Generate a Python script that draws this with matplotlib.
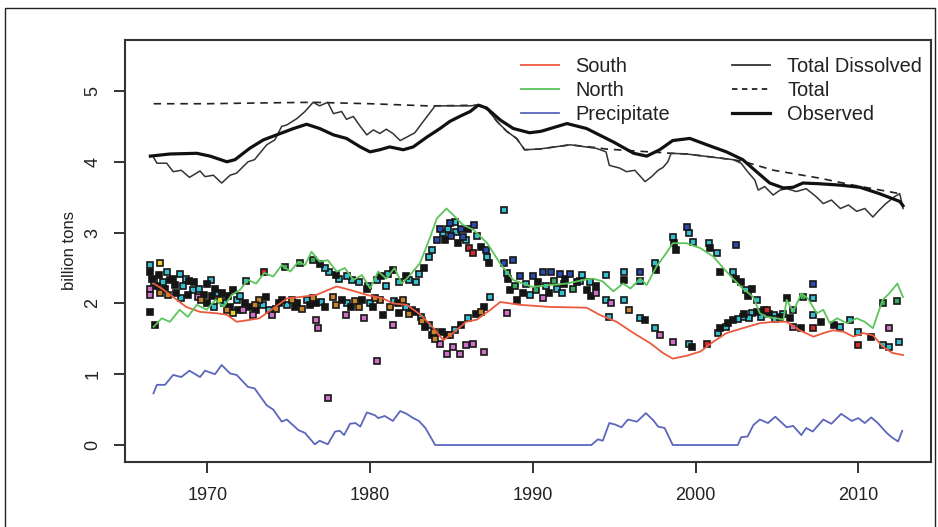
import matplotlib
matplotlib.use("Agg")
import matplotlib.pyplot as plt
from matplotlib.patches import Rectangle
from matplotlib.lines import Line2D

plt.rcParams['font.family'] = ['Liberation Sans', 'DejaVu Sans']

# ---------------- data ----------------
precip_year = [1966.69, 1966.9, 1967.4, 1967.9, 1968.4, 1968.9, 1969.55, 1969.86, 1970.47, 1970.88,
               1971.4, 1971.8, 1972.5, 1972.9, 1973.65, 1974.05, 1974.57, 1974.88, 1975.6, 1976.0,
               1976.6, 1976.9, 1977.4, 1977.85, 1978.15, 1978.4, 1978.77, 1979.1, 1979.4, 1979.8,
               1980.3, 1980.5, 1980.9, 1981.4, 1981.85, 1982.25, 1982.65, 1983.0, 1983.4, 1984.0,
               1993.6, 1994.0, 1994.3, 1994.7, 1995.05, 1995.45, 1995.85, 1996.4, 1996.95, 1997.4,
               1997.7, 1998.1, 1998.6, 2002.6, 2002.8, 2003.2, 2003.55, 2003.95, 2004.45, 2004.9,
               2005.6, 2006.0, 2006.5, 2006.8, 2007.2, 2007.85, 2008.35, 2008.95, 2009.6, 2010.0,
               2010.4, 2010.8, 2011.2, 2011.75, 2012.05, 2012.45, 2012.7]
precip_val = [0.73, 0.85, 0.85, 0.99, 0.96, 1.05, 0.96, 1.05, 1.0, 1.13,
              1.01, 0.99, 0.82, 0.80, 0.56, 0.50, 0.33, 0.36, 0.21, 0.17,
              0.01, 0.06, 0.01, 0.19, 0.20, 0.14, 0.30, 0.31, 0.26, 0.46,
              0.42, 0.38, 0.41, 0.34, 0.48, 0.44, 0.38, 0.34, 0.24, 0.0,
              0.0, 0.08, 0.06, 0.31, 0.29, 0.25, 0.36, 0.33, 0.45, 0.35,
              0.26, 0.24, 0.0, 0.0, 0.11, 0.12, 0.28, 0.36, 0.31, 0.40,
              0.25, 0.27, 0.14, 0.24, 0.19, 0.36, 0.30, 0.44, 0.34, 0.38,
              0.31, 0.39, 0.31, 0.17, 0.11, 0.05, 0.20]

south_year = [1966.7, 1967.2, 1967.9, 1968.7, 1969.55, 1970.6, 1971.2, 1971.8, 1972.4, 1973.2,
              1974.05, 1974.9, 1975.7, 1976.7, 1977.95, 1978.77, 1979.8, 1980.8, 1981.4, 1982.25,
              1983.1, 1983.9, 1984.5, 1985.1, 1985.9, 1986.55, 1987.4, 1988.0, 1989.2, 1991.05,
              1993.3, 1994.1, 1995.15, 1996.2, 1997.2, 1998.0, 1998.6, 1999.45, 2000.3, 2001.1,
              2001.9, 2002.9, 2003.95, 2004.8, 2005.6, 2006.4, 2007.25, 2007.85, 2008.45, 2009.1,
              2009.7, 2010.3, 2010.9, 2011.5, 2012.1, 2012.75]
south_val = [2.28, 2.21, 2.09, 1.95, 1.88, 1.86, 1.84, 1.74, 1.76, 1.79,
             1.93, 2.07, 2.09, 2.12, 2.24, 2.19, 2.12, 2.07, 2.0, 1.98,
             1.84, 1.65, 1.48, 1.58, 1.74, 1.77, 1.91, 2.02, 1.98, 1.95,
             1.94, 1.84, 1.74, 1.58, 1.44, 1.30, 1.22, 1.26, 1.32, 1.46,
             1.58, 1.65, 1.72, 1.74, 1.74, 1.62, 1.53, 1.58, 1.62, 1.60,
             1.53, 1.58, 1.55, 1.39, 1.30, 1.27]

north_year = [1966.7, 1967.2, 1967.7, 1968.3, 1968.8, 1969.35, 1969.96, 1970.5, 1971.0, 1971.5,
              1972.0, 1972.5, 1973.0, 1973.5, 1974.05, 1974.57, 1975.1, 1975.6, 1976.0, 1976.4,
              1976.9, 1977.4, 1977.95, 1978.45, 1978.97, 1979.5, 1980.0, 1980.5, 1981.0, 1981.5,
              1981.95, 1982.45, 1983.07, 1983.7, 1984.1, 1984.7, 1985.1, 1985.7, 1986.35, 1987.2,
              1988.0, 1988.8, 1990.0, 1991.05, 1992.1, 1993.1, 1993.7, 1994.3, 1994.95, 1995.55,
              1996.0, 1996.6, 1997.0, 1997.6, 1998.2, 1998.6, 1999.45, 2000.3, 2001.1, 2001.7,
              2002.3, 2002.9, 2003.55, 2003.95, 2004.36, 2004.97, 2005.4, 2005.6, 2006.0, 2006.5,
              2006.9, 2007.45, 2007.85, 2008.25, 2008.7, 2009.3, 2009.9, 2010.4, 2010.9, 2011.5,
              2011.9, 2012.4, 2012.75]
north_val = [1.67, 1.79, 1.74, 1.91, 1.81, 1.98, 1.91, 2.05, 1.95, 2.12,
             2.19, 2.33, 2.28, 2.43, 2.38, 2.54, 2.45, 2.59, 2.54, 2.73,
             2.59, 2.61, 2.45, 2.50, 2.33, 2.40, 2.21, 2.45, 2.35, 2.50,
             2.28, 2.40, 2.57, 2.94, 3.20, 3.34, 3.25, 3.11, 3.04, 2.85,
             2.56, 2.33, 2.23, 2.26, 2.28, 2.33, 2.35, 2.31, 2.17, 2.28,
             2.21, 2.35, 2.26, 2.52, 2.71, 2.85, 2.85, 2.78, 2.66, 2.50,
             2.35, 2.21, 2.09, 1.86, 1.81, 1.79, 1.77, 2.05, 1.88, 2.14,
             2.07, 1.86, 1.91, 1.72, 1.79, 1.72, 1.79, 1.74, 1.65, 2.05,
             2.14, 2.28, 2.09]

dissolved_year = [1966.68, 1966.9, 1967.5, 1967.9, 1968.4, 1968.9, 1969.55, 1969.86, 1970.37, 1970.88,
                  1971.4, 1971.8, 1972.5, 1972.9, 1973.65, 1974.15, 1974.57, 1974.88, 1975.5, 1976.0,
                  1976.5, 1976.9, 1977.4, 1977.75, 1978.25, 1978.55, 1978.97, 1979.4, 1979.8, 1980.2,
                  1980.6, 1981.0, 1981.4, 1981.85, 1982.35, 1982.75, 1983.27, 1984.0, 1986.1, 1986.75,
                  1987.25, 1987.8, 1988.4, 1989.0, 1989.5, 1990.4, 1992.3, 1993.9, 1994.5, 1994.7,
                  1995.35, 1995.76, 1996.27, 1996.9, 1997.3, 1997.7, 1998.0, 1998.3, 1998.5, 1999.45,
                  2002.3, 2002.8, 2003.2, 2003.65, 2003.85, 2004.25, 2004.77, 2005.2, 2005.6, 2006.2,
                  2006.8, 2007.4, 2007.85, 2008.35, 2008.9, 2009.4, 2009.9, 2010.4, 2010.9, 2011.3,
                  2011.7, 2012.25, 2012.55, 2012.75]
dissolved_val = [4.07, 3.98, 3.98, 3.86, 3.88, 3.78, 3.87, 3.79, 3.81, 3.70,
                 3.81, 3.84, 4.00, 4.03, 4.24, 4.31, 4.50, 4.52, 4.61, 4.71,
                 4.84, 4.79, 4.84, 4.68, 4.71, 4.60, 4.64, 4.50, 4.38, 4.45,
                 4.40, 4.46, 4.40, 4.30, 4.36, 4.41, 4.57, 4.79, 4.79, 4.80,
                 4.73, 4.57, 4.43, 4.33, 4.17, 4.18, 4.24, 4.19, 4.14, 3.95,
                 3.91, 3.86, 3.88, 3.72, 3.79, 3.88, 3.92, 4.00, 4.12, 4.11,
                 4.03, 3.98, 3.86, 3.74, 3.60, 3.65, 3.53, 3.60, 3.62, 3.58,
                 3.62, 3.51, 3.41, 3.46, 3.34, 3.39, 3.30, 3.34, 3.22, 3.32,
                 3.41, 3.51, 3.55, 3.34]

total_year = [1966.7, 1970.0, 1973.0, 1976.5, 1980.0, 1983.5, 1984.0, 1986.75, 1987.25, 1987.8,
              1988.4, 1989.0, 1989.5, 1990.4, 1992.3, 1993.9, 1994.5, 1996.5, 1998.5, 1999.45,
              2002.3, 2003.0, 2004.8, 2007.6, 2009.7, 2012.55, 2012.75]
total_val = [4.82, 4.82, 4.83, 4.84, 4.82, 4.79, 4.79, 4.80, 4.73, 4.57,
             4.43, 4.33, 4.17, 4.18, 4.24, 4.20, 4.18, 4.15, 4.12, 4.11,
             4.03, 4.00, 3.88, 3.77, 3.67, 3.55, 3.53]

observed_year = [1966.5, 1967.7, 1969.35, 1970.17, 1971.2, 1971.7, 1972.6, 1973.45, 1974.26, 1975.3,
                 1976.1, 1976.9, 1977.75, 1978.55, 1979.4, 1980.0, 1980.6, 1981.2, 1982.04, 1982.65,
                 1983.5, 1984.3, 1984.9, 1985.5, 1986.15, 1986.65, 1987.16, 1988.0, 1988.8, 1989.8,
                 1990.5, 1992.1, 1993.3, 1994.95, 1996.2, 1997.0, 1997.8, 1998.6, 1999.65, 2000.7,
                 2001.9, 2002.9, 2003.75, 2004.56, 2005.4, 2006.0, 2006.6, 2007.6, 2008.9, 2010.1,
                 2011.3, 2012.55, 2012.75]
observed_val = [4.08, 4.11, 4.12, 4.08, 4.00, 4.03, 4.19, 4.31, 4.38, 4.47,
                4.53, 4.47, 4.38, 4.33, 4.21, 4.14, 4.17, 4.21, 4.17, 4.21,
                4.35, 4.47, 4.57, 4.64, 4.71, 4.80, 4.76, 4.59, 4.47, 4.41,
                4.43, 4.54, 4.47, 4.28, 4.12, 4.08, 4.17, 4.30, 4.33, 4.24,
                4.14, 4.03, 3.86, 3.70, 3.63, 3.64, 3.70, 3.69, 3.67, 3.64,
                3.55, 3.44, 3.38]

pt_year = [1966.5, 1966.5, 1967.1, 1966.5, 1966.5, 1966.5, 1966.8, 1966.9, 1967.1, 1967.5,
           1967.7, 1968.3, 1968.0, 1968.5, 1968.9, 1969.1, 1969.4, 1969.6, 1969.96, 1970.2,
           1970.5, 1970.6, 1970.8, 1971.2, 1971.6, 1971.6, 1971.8, 1972.2, 1972.4, 1972.6,
           1972.8, 1973.2, 1973.5, 1973.6, 1973.8, 1974.0, 1974.4, 1974.8, 1975.2, 1975.4,
           1975.7, 1976.1, 1976.5, 1976.7, 1976.7, 1976.8, 1977.5, 1977.7, 1978.1, 1978.3,
           1978.5, 1978.9, 1979.1, 1979.6, 1979.8, 1980.0, 1980.4, 1980.6, 1980.8, 1981.0,
           1981.4, 1981.5, 1981.8, 1982.0, 1981.4, 1982.4, 1982.6, 1983.0, 1983.1, 1983.4,
           1983.6, 1983.9, 1984.1, 1984.3, 1984.5, 1984.7, 1984.7, 1984.9, 1985.1, 1985.3,
           1985.5, 1985.7, 1985.9, 1986.1, 1986.3, 1986.3, 1986.4, 1987.0, 1987.2, 1987.3,
           1987.0, 1987.4,
           1988.2, 1988.4, 1988.8, 1988.6, 1989.0, 1988.4, 1989.6, 1990.0, 1990.2, 1990.6,
           1990.6, 1991.1, 1991.5, 1991.7, 1991.9, 1992.3, 1992.5, 1992.9, 1993.3, 1993.9,
           1993.9, 1994.5, 1994.5, 1994.8, 1994.7, 1995.6, 1995.6, 1995.6, 1995.9, 1996.6,
           1996.6, 1996.6, 1996.9, 1997.5, 1997.6, 1997.5, 1997.8, 1998.6, 1998.7, 1998.6,
           1998.8, 1999.5, 1999.6, 1999.6, 1999.8, 1999.85, 2000.7, 2000.8, 2000.9, 2001.3,
           2001.5, 2001.4, 2001.5, 2001.9, 2002.3, 2002.5, 2002.3, 2002.5, 2002.9, 2003.1,
           2003.5, 2003.75, 2003.5, 2004.2, 2004.0, 2004.4, 2004.8, 2005.2, 2005.6, 2006.0,
           2006.0, 2006.5, 2006.6, 2007.2, 2007.2, 2007.2, 2007.2, 2007.7, 2008.5, 2008.9,
           2009.5, 2010.0, 2010.0, 2010.8, 2011.5, 2011.5, 2011.9, 2011.9, 2012.4, 2012.5,
           1977.4, 1980.4, 1988.2,
           1966.6, 1966.7, 1967.0, 1967.3, 1967.4, 1967.6, 1967.9, 1968.1, 1968.4, 1968.7,
           1968.8, 1969.2, 1969.5, 1969.8, 1970.0, 1970.3, 1970.4, 1970.9, 1971.0, 1971.3,
           1971.4, 1971.9, 1972.0, 1972.3, 1972.9, 1973.0,
           1973.4, 1974.2, 1974.6, 1974.9, 1975.5, 1975.8, 1976.3, 1976.5, 1977.0, 1977.2,
           1977.9, 1978.6, 1978.8, 1979.3, 1979.5, 1980.2, 1980.3, 1981.2, 1981.7, 1982.2,
           1982.4, 1982.8, 1983.2, 1983.6, 1983.8, 1984.0, 1984.4, 1984.9, 1985.2, 1985.6,
           1986.0, 1986.5, 1986.8,
           1976.9, 1977.2, 1977.9, 1978.6, 1979.3, 1979.9, 1980.7, 1981.1, 1981.8, 1982.2,
           1982.8, 1983.3, 1983.8,
           1984.3, 1984.6, 1984.8, 1985.0, 1985.2, 1985.4, 1985.6, 1985.9, 1986.0, 1986.6,
           1986.8, 1987.1,
           1988.5, 1988.9, 1989.2, 1989.4, 1989.8, 1990.3, 1990.8, 1991.0, 1991.3, 1991.8,
           1992.0, 1992.7, 1993.0, 1993.5, 1993.6,
           2002.0, 2002.6, 2003.0, 2003.3, 2003.8, 2004.5, 2004.9, 2005.4, 2005.8, 2002.8,
           2003.2]
pt_value = [2.54, 2.45, 2.57, 2.21, 2.12, 1.88, 1.70, 2.24, 2.14, 2.45,
            2.33, 2.42, 2.26, 2.24, 2.31, 2.19, 2.09, 2.05, 2.28, 2.33,
            2.21, 2.14, 2.05, 1.91, 1.86, 2.19, 2.05, 1.91, 2.31, 1.95,
            1.84, 2.05, 2.45, 2.09, 1.91, 1.84, 2.00, 2.52, 2.05, 1.95,
            2.57, 2.05, 2.61, 2.00, 1.76, 1.65, 2.45, 2.09, 2.35, 2.05,
            1.84, 2.33, 2.03, 1.79, 2.21, 2.00, 2.33, 2.05, 1.84, 2.24,
            2.47, 2.03, 1.86, 2.05, 1.69, 2.33, 1.91, 2.42, 1.81, 1.67,
            2.66, 1.60, 2.89, 1.43, 2.99, 1.55, 1.29, 3.13, 1.39, 3.01,
            1.29, 2.94, 1.41, 2.78, 2.71, 1.43, 3.11, 1.32, 2.66, 2.57,
            1.95, 2.09,
            2.57, 2.43, 2.61, 2.19, 2.05, 1.86, 2.28, 2.38, 2.19, 2.07,
            2.45, 2.45, 2.21, 2.42, 2.28, 2.42, 2.21, 2.31, 2.19, 2.24,
            2.14, 2.05, 2.40, 2.00, 1.81, 2.45, 2.33, 2.05, 1.91, 2.45,
            2.31, 1.79, 1.76, 2.57, 2.47, 1.65, 1.55, 2.94, 2.85, 1.46,
            2.75, 3.08, 2.99, 1.43, 1.39, 2.87, 1.43, 2.85, 2.78, 2.71,
            2.45, 1.58, 1.65, 1.67, 2.45, 2.35, 1.76, 2.82, 1.81, 2.19,
            2.21, 2.05, 1.86, 1.91, 1.81, 1.91, 1.84, 1.81, 2.07, 1.91,
            1.67, 1.65, 2.09, 2.28, 2.07, 1.84, 1.65, 1.74, 1.69, 1.67,
            1.76, 1.60, 1.41, 1.53, 2.00, 1.41, 1.39, 1.65, 2.03, 1.46,
            0.67, 1.18, 3.32,
            2.35, 2.30, 2.40, 2.30, 2.20, 2.12, 2.35, 2.15, 2.08, 2.35,
            2.12, 2.30, 2.20, 2.12, 2.00, 2.10, 1.95, 2.15, 2.00, 2.10,
            1.95, 1.90, 2.10, 2.00, 1.98, 1.90,
            1.98, 1.92, 2.05, 1.98, 2.00, 1.92, 1.98, 2.08, 2.02, 1.95,
            1.98, 2.00, 1.95, 1.95, 2.05, 1.95, 2.08, 1.95, 2.00, 1.95,
            1.85, 1.88, 1.75, 1.70, 1.55, 1.50, 1.60, 1.55, 1.62, 1.70,
            1.80, 1.85, 1.88,
            2.55, 2.50, 2.40, 2.38, 2.30, 2.25, 2.38, 2.42, 2.30, 2.38,
            2.30, 2.50, 2.75,
            3.05, 2.90, 3.05, 2.95, 3.15, 2.85, 3.05, 2.90, 3.05, 2.95,
            2.80, 2.75,
            2.35, 2.25, 2.38, 2.15, 2.12, 2.30, 2.25, 2.15, 2.32, 2.15,
            2.35, 2.30, 2.40, 2.30, 2.10,
            1.72, 1.78, 1.85, 1.80, 1.88, 1.85, 1.78, 1.85, 1.80, 2.30,
            2.10]
pt_color = ['c', 'k', 'y', 'm', 'm', 'k', 'k', 'k', 'o', 'c',
            'k', 'c', 'k', 'c', 'k', 'c', 'm', 'o', 'k', 'c',
            'k', 'c', 'y', 'o', 'y', 'k', 'c', 'm', 'c', 'k',
            'm', 'o', 'r', 'k', 'c', 'm', 'k', 'g', 'o', 'k',
            'g', 'c', 'g', 'k', 'm', 'm', 'c', 'o', 'c', 'k',
            'm', 'c', 'o', 'm', 'k', 'c', 'c', 'o', 'k', 'c',
            'k', 'c', 'k', 'o', 'm', 'c', 'k', 'c', 'c', 'k',
            'c', 'o', 'b', 'm', 'c', 'k', 'm', 'b', 'm', 'c',
            'm', 'b', 'm', 'r', 'r', 'm', 'b', 'm', 'c', 'k',
            'k', 'c',
            'b', 'c', 'b', 'k', 'k', 'm', 'c', 'b', 'g', 'm',
            'b', 'b', 'c', 'b', 'k', 'b', 'g', 'c', 'k', 'k',
            'm', 'c', 'c', 'm', 'c', 'c', 'k', 'c', 'o', 'b',
            'c', 'c', 'k', 'c', 'k', 'c', 'm', 'c', 'k', 'm',
            'k', 'b', 'c', 'c', 'k', 'c', 'r', 'c', 'k', 'c',
            'k', 'c', 'k', 'c', 'c', 'k', 'k', 'b', 'c', 'c',
            'k', 'c', 'c', 'k', 'c', 'r', 'c', 'k', 'k', 'c',
            'm', 'k', 'g', 'b', 'c', 'c', 'r', 'k', 'k', 'c',
            'c', 'c', 'r', 'k', 'g', 'c', 'c', 'm', 'g', 'c',
            'm', 'm', 'c',
            'k', 'c', 'k', 'c', 'k', 'o', 'k', 'k', 'c', 'c',
            'k', 'k', 'c', 'k', 'k', 'k', 'c', 'k', 'c', 'k',
            'k', 'k', 'c', 'k', 'o', 'k',
            'c', 'o', 'k', 'c', 'k', 'o', 'k', 'o', 'c', 'k',
            'o', 'c', 'k', 'o', 'k', 'k', 'o', 'o', 'k', 'c',
            'o', 'k', 'o', 'c', 'k', 'o', 'k', 'o', 'c', 'k',
            'c', 'k', 'o',
            'k', 'c', 'k', 'c', 'c', 'c', 'k', 'c', 'c', 'k',
            'c', 'k', 'c',
            'b', 'k', 'c', 'b', 'c', 'k', 'b', 'c', 'k', 'c',
            'k', 'b',
            'k', 'g', 'b', 'k', 'c', 'k', 'c', 'k', 'g', 'c',
            'k', 'k', 'c', 'c', 'k',
            'k', 'c', 'k', 'c', 'k', 'k', 'c', 'c', 'k', 'k',
            'k']

x_ticks = [1970, 1980, 1990, 2000, 2010]
y_ticks = [0, 1, 2, 3, 4, 5]

# ---------------- styling ----------------
W, H = 938, 527
fig = plt.figure(figsize=(W / 100, H / 100), dpi=100)
fig.patch.set_facecolor('white')
ax = fig.add_axes([125 / W, 1 - 462 / H, (931 - 125) / W, (462 - 40) / H])

fill_map = {'c': '#35bfd0', 'k': '#151515', 'b': '#2a4cb0', 'm': '#d070c8',
            'o': '#c8842a', 'y': '#e6d62a', 'g': '#3aa860', 'r': '#d02a2a'}

RED = '#ec5a3e'
GREEN = '#5cc45a'
BLUE = '#5c66bc'
DARK = '#222222'

# scatter
for code, col in fill_map.items():
    xs = [x for x, c in zip(pt_year, pt_color) if c == code]
    ys = [y for y, c in zip(pt_value, pt_color) if c == code]
    ax.plot(xs, ys, linestyle='none', marker='s', markersize=3.9,
            markerfacecolor=col, markeredgecolor='#161616', markeredgewidth=1.2, zorder=2)

ax.plot(precip_year, precip_val, color=BLUE, lw=1.3, zorder=3)
ax.plot(south_year, south_val, color=RED, lw=1.3, zorder=3)
ax.plot(north_year, north_val, color=GREEN, lw=1.3, zorder=3)
ax.plot(total_year, total_val, color=DARK, lw=1.2, ls=(0, (4.5, 3.5)), zorder=4)
ax.plot(dissolved_year, dissolved_val, color='#333333', lw=1.1, zorder=4)
ax.plot(observed_year, observed_val, color='#111111', lw=2.3, zorder=5)

ax.set_xlim(1964.94, 2014.47)
ax.set_ylim(-0.24, 5.72)
ax.set_xticks(x_ticks)
ax.set_yticks(y_ticks)
ax.set_xticklabels([str(t) for t in x_ticks], fontsize=13, color='#222222')
ax.set_yticklabels([str(t) for t in y_ticks], fontsize=13, color='#222222',
                   rotation=90, va='center')
ax.tick_params(axis='both', length=8, width=1.4, color='#333333', direction='out')
ax.tick_params(axis='x', pad=10)
ax.tick_params(axis='y', pad=9)
for s in ax.spines.values():
    s.set_color('#333333')
    s.set_linewidth(1.5)
ax.set_ylabel('billion tons', fontsize=12, color='#222222', labelpad=5)

handles = [Line2D([], [], color=RED, lw=1.3),
           Line2D([], [], color=GREEN, lw=1.3),
           Line2D([], [], color=BLUE, lw=1.3),
           Line2D([], [], color='#333333', lw=1.3),
           Line2D([], [], color=DARK, lw=1.3, ls=(0, (3, 2.5))),
           Line2D([], [], color='#111111', lw=2.3)]
labels = ['South', 'North', 'Precipitate', 'Total Dissolved', 'Total', 'Observed']
leg = fig.legend(handles, labels, ncol=2, loc='upper right',
                 bbox_to_anchor=(922 / W, 1 - 57 / H), bbox_transform=fig.transFigure,
                 frameon=False, fontsize=14.4, handlelength=1.9, handletextpad=0.85,
                 columnspacing=3.1, labelspacing=0.25, borderpad=0, borderaxespad=0)
for t in leg.get_texts():
    t.set_color('#222222')

# outer frame
fig.patches.append(Rectangle((5 / W, -0.02), (935 - 5) / W, 1.02 - 8 / H,
                             transform=fig.transFigure, fill=False,
                             edgecolor='#222222', lw=1.0))

fig.savefig('out.png', dpi=100)
